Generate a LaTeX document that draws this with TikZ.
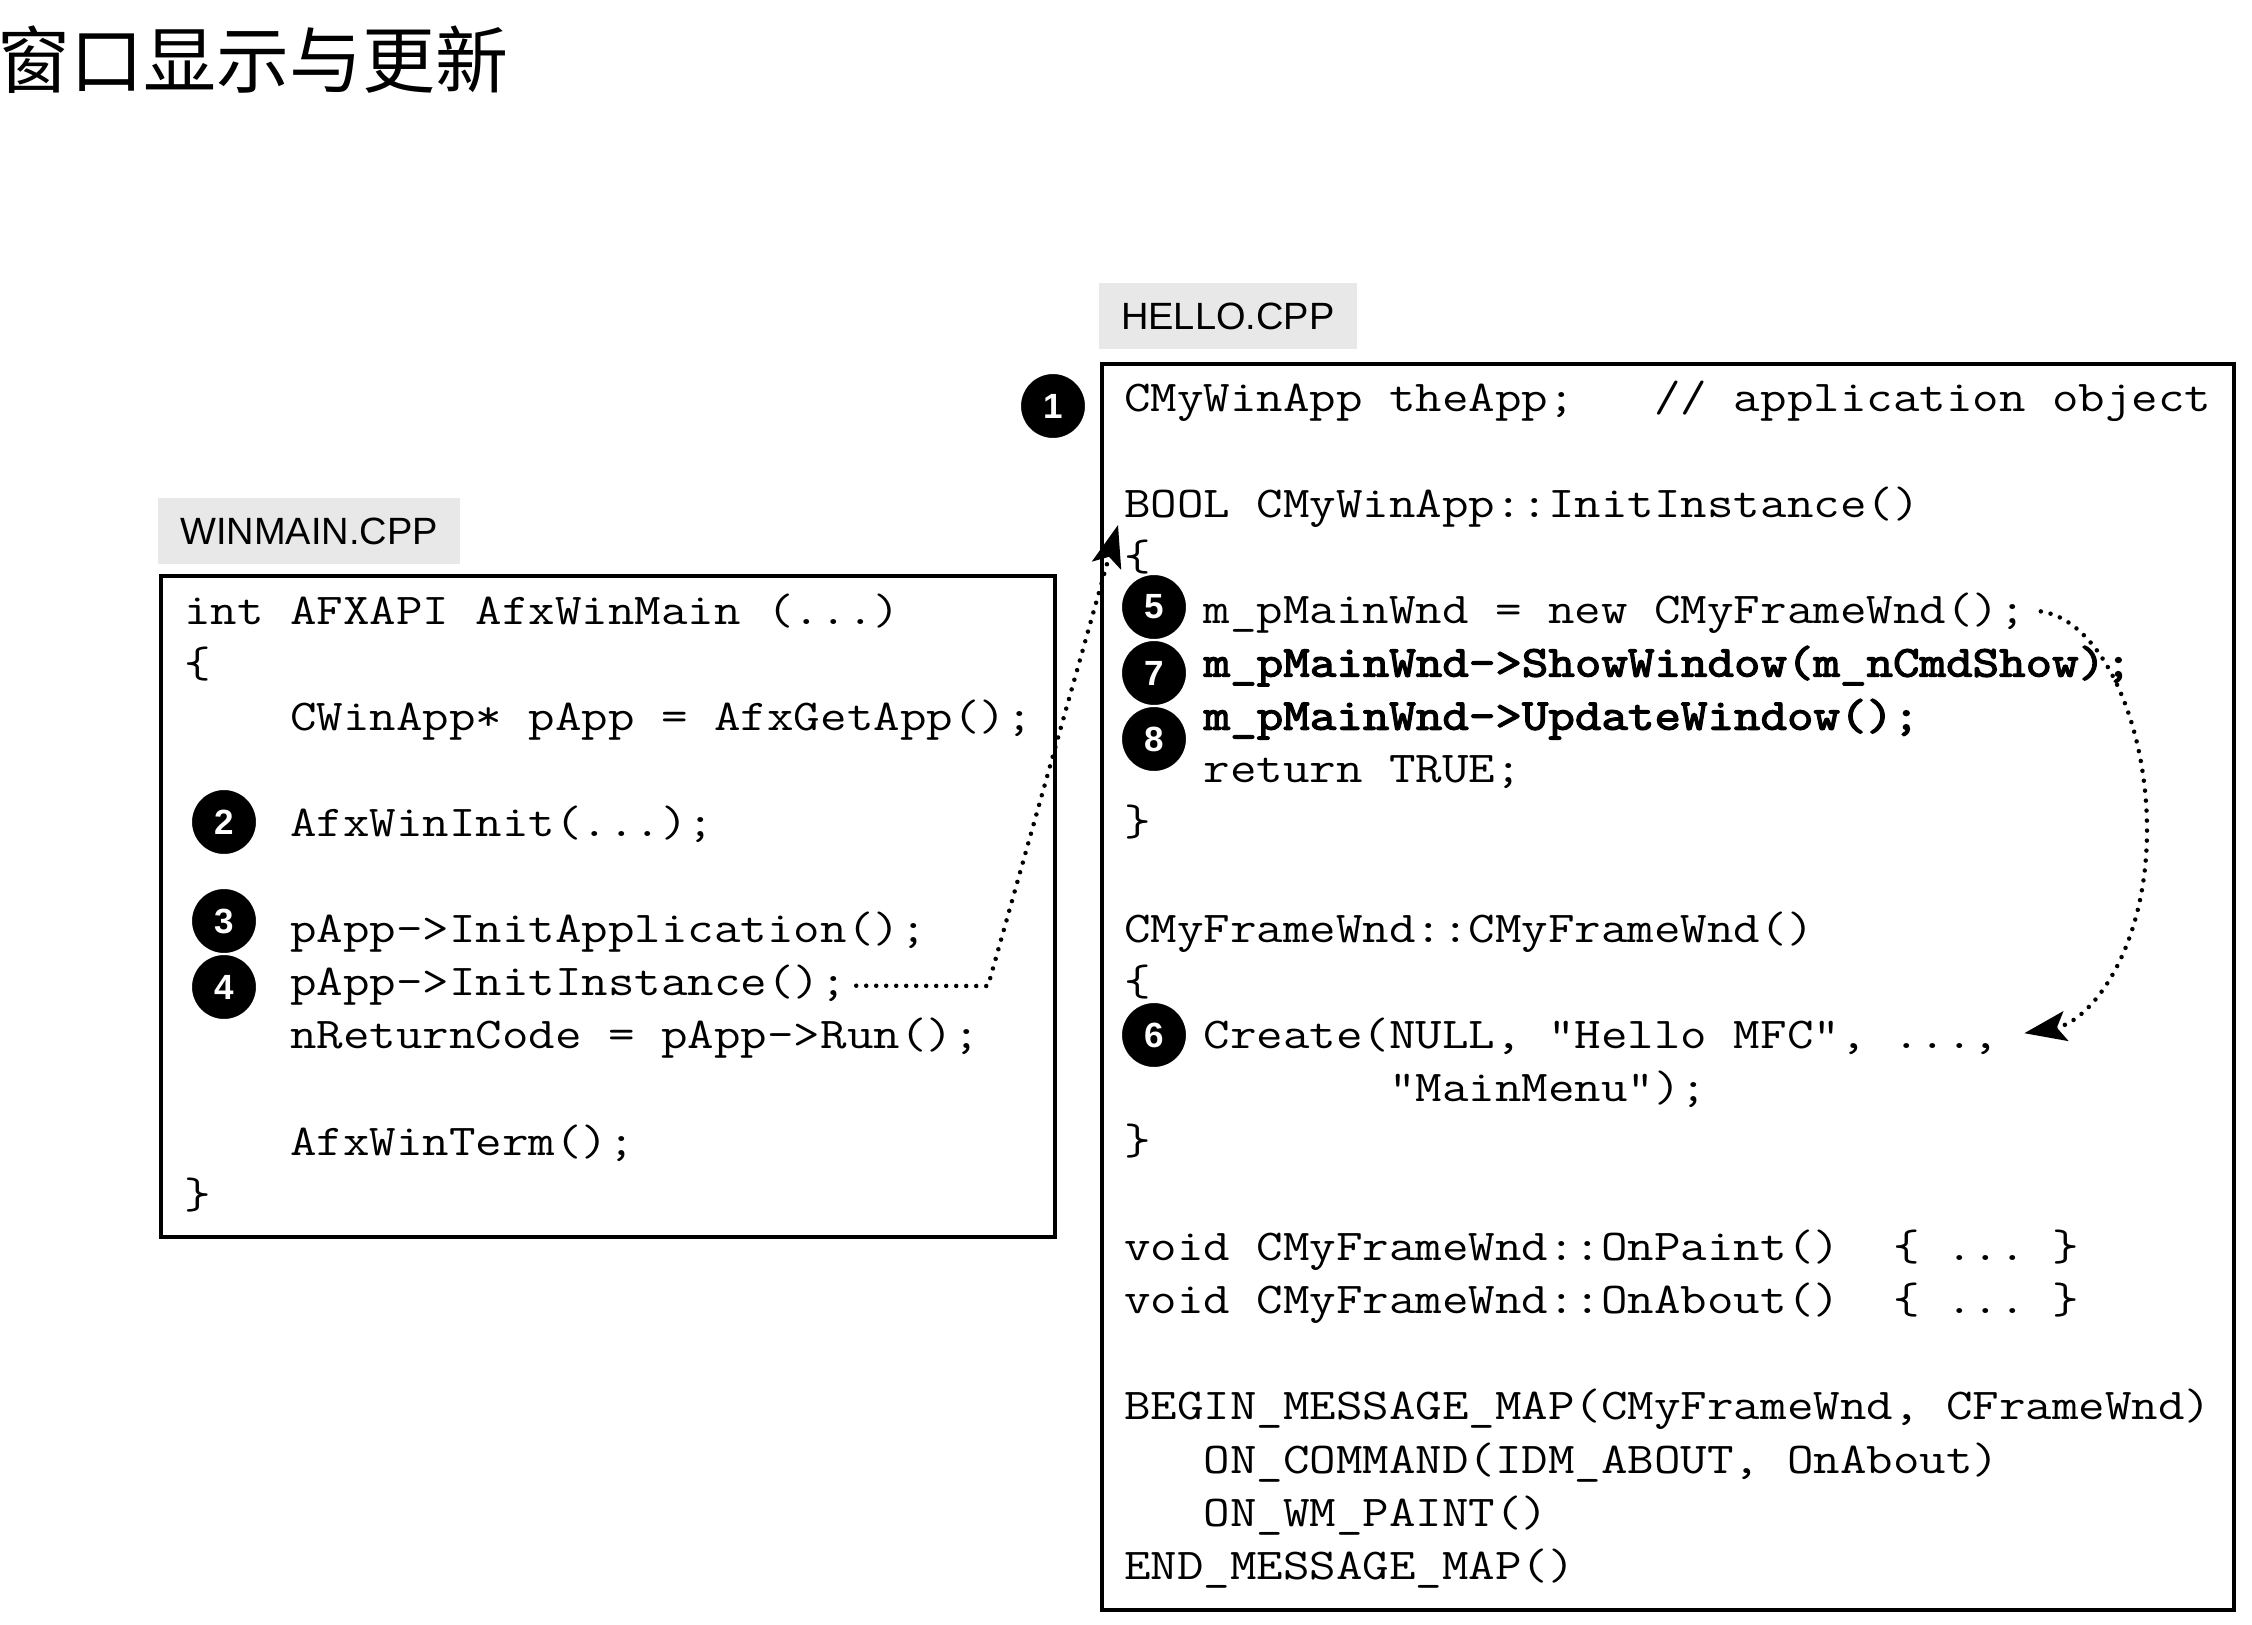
\documentclass[tikz,border=0pt]{standalone}
\usepackage{fontspec}
\setmainfont{Liberation Serif}
\newfontfamily\codefont{Latin Modern Mono}[FakeStretch=1.17]
\newfontfamily\codefontb{Latin Modern Mono}[FakeStretch=1.17, FakeBold=3]
\newfontfamily\labelfont{Liberation Sans}
\newfontfamily\cjk{Noto Sans CJK SC}
\usetikzlibrary{arrows.meta}
\definecolor{labelgray}{RGB}{232,232,232}
\frenchspacing
\begin{document}
\begin{tikzpicture}[x=1pt,y=-1pt,
  code/.style={anchor=base west, inner sep=0pt, font=\codefont\fontsize{44}{53}\selectfont},
  codeb/.style={anchor=base west, inner sep=0pt, font=\codefontb\fontsize{44}{53}\selectfont},
  filelabel/.style={anchor=north west, fill=labelgray, inner xsep=22pt, inner ysep=0pt, minimum height=66pt, font=\labelfont\fontsize{38}{46}\selectfont},
  codebox/.style={anchor=north west, draw=black, line width=3.5pt, inner sep=0pt},
  badge/.style={circle, fill=black, draw=white, line width=2pt, minimum size=66pt, inner sep=0pt, text=white, font=\labelfont\bfseries\fontsize{35}{35}\selectfont},
  flow/.style={line width=4.5pt, dash pattern=on 0pt off 10pt, line cap=round},
  tip/.style={-{Stealth[length=42pt,width=30pt,inset=9pt]}}
]
\useasboundingbox (0,0) rectangle (2252,1625);

% title
\node[anchor=west, inner sep=0pt, font=\cjk\fontsize{73}{80}\selectfont] (title) at (-3,60) {窗口显示与更新};

% file labels
\node[filelabel] (winlabel) at (158,498) {WINMAIN.CPP};
\node[filelabel] (hellolabel) at (1099,283) {HELLO.CPP};

% code boxes
\node[codebox, minimum width=894pt, minimum height=661pt] (winbox) at (159,574) {};
\node[codebox, minimum width=1132pt, minimum height=1246pt] (hellobox) at (1100,362) {};

% WINMAIN.CPP code
\node[code] (l0) at (184,624.0) {int AFXAPI AfxWinMain (...)};
\node[code] (l1) at (184,677.1) {\{};
\node[code] (l2) at (184,730.2) {~~~~CWinApp* pApp = AfxGetApp();};
\node[code] (l4) at (184,836.4) {~~~~AfxWinInit(...);};
\node[code] (l6) at (184,942.6) {~~~~pApp->InitApplication();};
\node[code] (l7) at (184,995.7) {~~~~pApp->InitInstance();};
\node[code] (l8) at (184,1048.8) {~~~~nReturnCode = pApp->Run();};
\node[code] (l10) at (184,1155.0) {~~~~AfxWinTerm();};
\node[code] (l11) at (184,1208.1) {\}};

% HELLO.CPP code
\node[code] (r0) at (1124,411.0) {CMyWinApp theApp;~~~// application object};
\node[code] (r2) at (1124,517.2) {BOOL CMyWinApp::InitInstance()};
\node[code] (r3) at (1124,570.3) {\{};
\node[code] (r4) at (1124,623.4) {~~~m\_pMainWnd = new CMyFrameWnd();};
\node[codeb] (r5) at (1124,676.5) {~~~m\_pMainWnd->ShowWindow(m\_nCmdShow);};
\node[codeb] (r6) at (1124,729.6) {~~~m\_pMainWnd->UpdateWindow();};
\node[code] (r7) at (1124,782.7) {~~~return TRUE;};
\node[code] (r8) at (1124,835.8) {\}};
\node[code] (r10) at (1124,942.0) {CMyFrameWnd::CMyFrameWnd()};
\node[code] (r11) at (1124,995.1) {\{};
\node[code] (r12) at (1124,1048.2) {~~~Create(NULL, "Hello MFC", ...,};
\node[code] (r13) at (1124,1101.3) {~~~~~~~~~~"MainMenu");};
\node[code] (r14) at (1124,1154.4) {\}};
\node[code] (r16) at (1124,1260.6) {void CMyFrameWnd::OnPaint()~~\{ ... \}};
\node[code] (r17) at (1124,1313.7) {void CMyFrameWnd::OnAbout()~~\{ ... \}};
\node[code] (r19) at (1124,1419.9) {BEGIN\_MESSAGE\_MAP(CMyFrameWnd, CFrameWnd)};
\node[code] (r20) at (1124,1473.0) {~~~ON\_COMMAND(IDM\_ABOUT, OnAbout)};
\node[code] (r21) at (1124,1526.1) {~~~ON\_WM\_PAINT()};
\node[code] (r22) at (1124,1579.2) {END\_MESSAGE\_MAP()};

% step badges
\node[badge] (b1) at (1053,406) {1};
\node[badge] (b2) at (224,822) {2};
\node[badge] (b3) at (224,921) {3};
\node[badge] (b4) at (224,987) {4};
\node[badge] (b5) at (1154,607) {5};
\node[badge] (b7) at (1154,673) {7};
\node[badge] (b8) at (1154,739) {8};
\node[badge] (b6) at (1154,1035) {6};

% connectors
\coordinate (bend1) at (988,986);
\coordinate (tip1) at (1118,525);
\draw[flow, tip] ([xshift=9pt,yshift=10pt]l7.base east) -- (bend1) -- (tip1);

\coordinate (far2) at (2147,830);
\draw[flow, tip] ([xshift=15pt,yshift=12pt]r4.base east)
  .. controls (2100,620) and (2147,720) .. (far2)
  .. controls (2147,950) and (2090,1022) .. ([xshift=25pt,yshift=15pt]r12.base east);
\end{tikzpicture}
\end{document}
